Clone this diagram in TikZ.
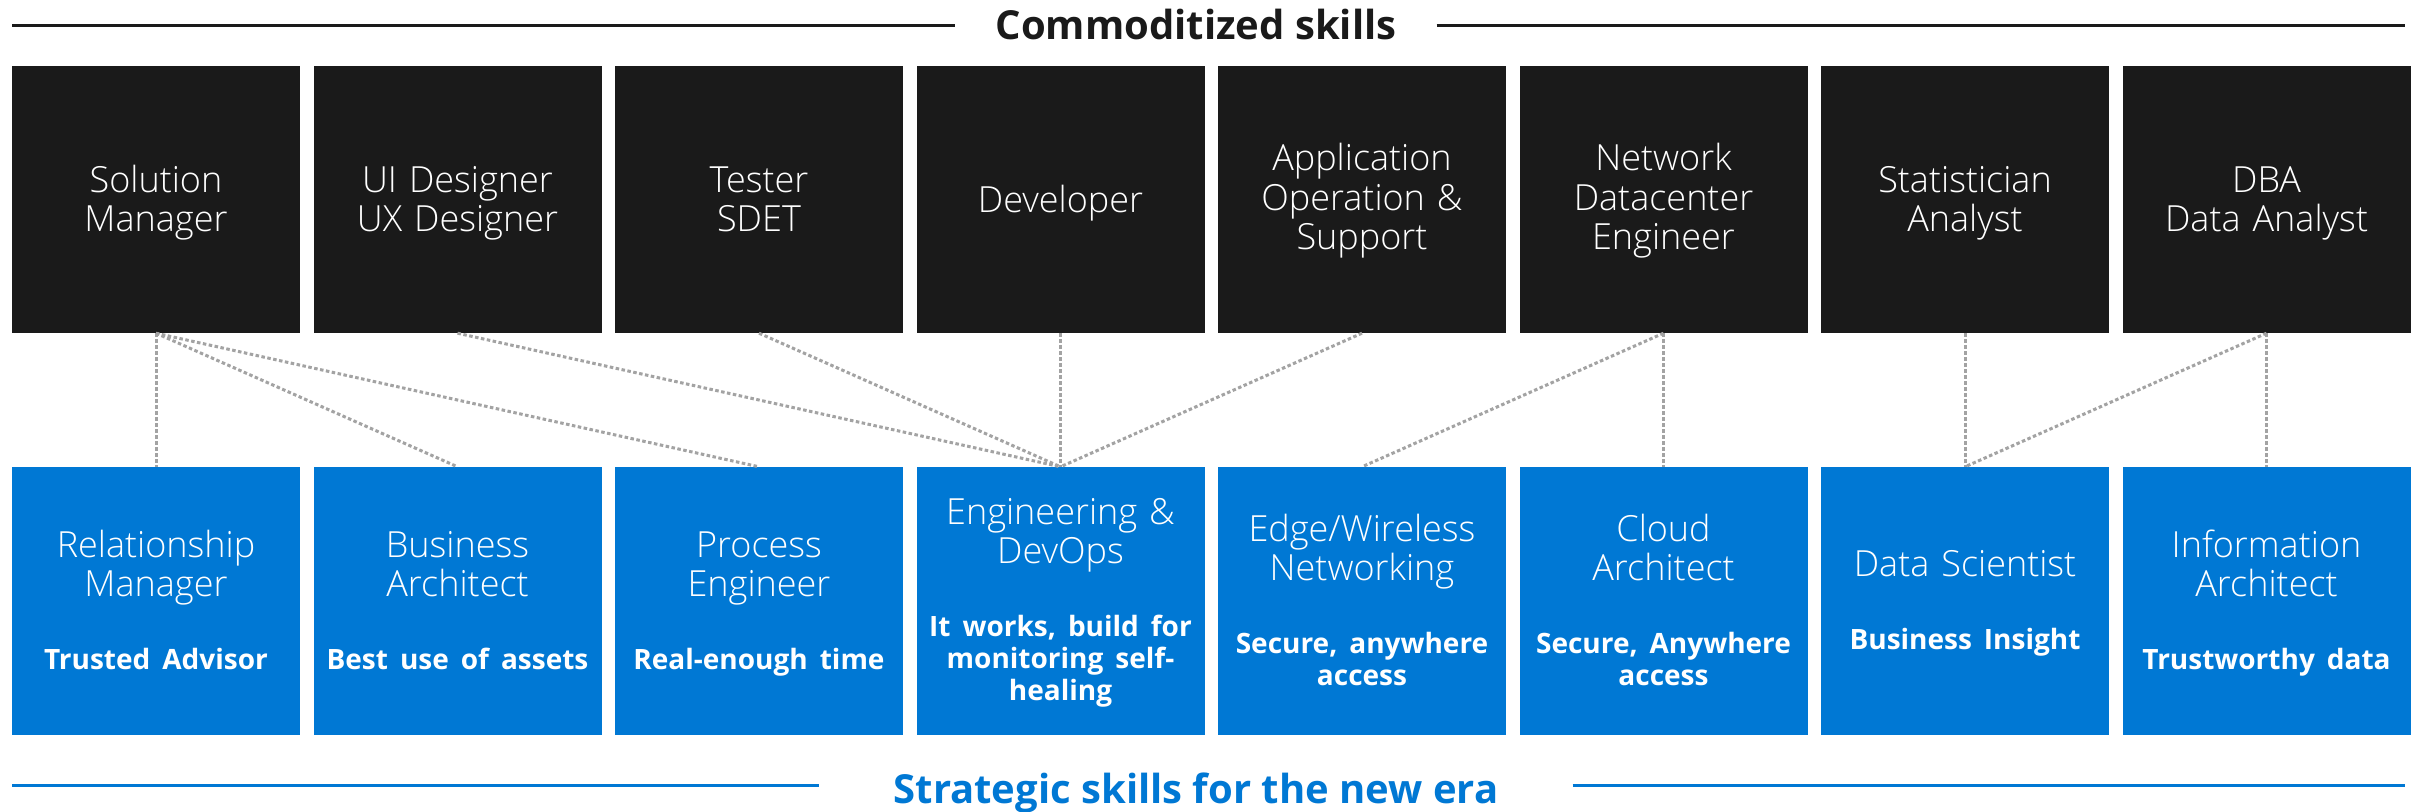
\documentclass[tikz,border=0pt]{standalone}
\usepackage{fontspec}
\setmainfont{Open Sans}
\newfontfamily\lightfam{Open Sans Light}
\usetikzlibrary{calc}
\definecolor{blk}{HTML}{1A1A1A}
\definecolor{msblue}{HTML}{0078D4}
\definecolor{dotgray}{HTML}{A3A3A3}
\newcommand\ttlfont{\lightfam\fontsize{36}{39.5}\selectfont}
\newcommand\subfont{\normalfont\bfseries\fontsize{28}{32}\selectfont}
\newcommand\gapsub{\par\vspace{41pt}\subfont}
\begin{document}
\begin{tikzpicture}[x=1pt,y=-1pt,
  blackbox/.style={fill=blk, minimum width=288pt, minimum height=267pt, inner sep=0pt},
  bluebox/.style={fill=msblue, minimum width=288pt, minimum height=268pt, inner sep=0pt},
  boxtxt/.style={text=white, inner sep=0pt, text width=286pt, align=center,
    font=\ttlfont, anchor=base},
  link/.style={draw=dotgray, line width=3pt, dash pattern=on 3.5pt off 2.5pt},
  headtxt/.style={inner sep=0pt, anchor=base, font=\bfseries\fontsize{40}{44}\selectfont},
  rule/.style={line width=3pt}]
\useasboundingbox[fill=white] (0,0) rectangle (2419,811);

% title top
\node[headtxt, text=blk] (top) at (1196,39) {Commoditized skills};
\coordinate (tA) at (12,25);
\coordinate (tB) at (2405,25);
\draw[rule, blk] (tA) -- ($(top.west |- tA)+(-40,0)$);
\draw[rule, blk] ($(top.east |- tB)+(40,0)$) -- (tB);

% title bottom
\node[headtxt, text=msblue] (bot) at (1196,803) {Strategic skills for the new era};
\coordinate (bA) at (12,785);
\coordinate (bB) at (2405,785);
\draw[rule, msblue] (bA) -- ($(bot.west |- bA)+(-74,0)$);
\draw[rule, msblue] ($(bot.east |- bB)+(74,0)$) -- (bB);

% commoditized skills (boxes)
\node[blackbox] (b1) at (156,199.5)    {};
\node[blackbox] (b2) at (457.5,199.5)  {};
\node[blackbox] (b3) at (759,199.5)    {};
\node[blackbox] (b4) at (1060.5,199.5) {};
\node[blackbox] (b5) at (1362,199.5)   {};
\node[blackbox] (b6) at (1663.5,199.5) {};
\node[blackbox] (b7) at (1965,199.5)   {};
\node[blackbox] (b8) at (2266.5,199.5) {};
% commoditized skills (texts, anchored at first baseline)
\node[boxtxt] (l1) at ($(b1.center)+(0,-7.5)$) {Solution\\Manager};
\node[boxtxt] (l2) at ($(b2.center)+(0,-7.5)$) {UI Designer\\UX Designer};
\node[boxtxt] (l3) at ($(b3.center)+(0,-7.5)$) {Tester\\SDET};
\node[boxtxt] (l4) at ($(b4.center)+(0,12.5)$) {Developer};
\node[boxtxt] (l5) at ($(b5.center)+(0,-29)$)  {Application\\Operation \&\\Support};
\node[boxtxt] (l6) at ($(b6.center)+(0,-29)$)  {Network\\Datacenter\\Engineer};
\node[boxtxt] (l7) at ($(b7.center)+(0,-7.5)$) {Statistician\\Analyst};
\node[boxtxt] (l8) at ($(b8.center)+(0,-7.5)$) {DBA\\Data Analyst};

% strategic skills (boxes)
\node[bluebox] (s1) at (156,601)    {};
\node[bluebox] (s2) at (457.5,601)  {};
\node[bluebox] (s3) at (759,601)    {};
\node[bluebox] (s4) at (1060.5,601) {};
\node[bluebox] (s5) at (1362,601)   {};
\node[bluebox] (s6) at (1663.5,601) {};
\node[bluebox] (s7) at (1965,601)   {};
\node[bluebox] (s8) at (2266.5,601) {};
% strategic skills (texts, anchored at first baseline)
\node[boxtxt] (m1) at ($(s1.center)+(0,-44)$) {Relationship\\Manager\gapsub Trusted Advisor\par};
\node[boxtxt] (m2) at ($(s2.center)+(0,-44)$) {Business\\Architect\gapsub Best use of assets\par};
\node[boxtxt] (m3) at ($(s3.center)+(0,-44)$) {Process\\Engineer\gapsub Real-enough time\par};
\node[boxtxt] (m4) at ($(s4.center)+(0,-77)$) {Engineering \&\\DevOps\gapsub It works, build for\\monitoring self-\\healing\par};
\node[boxtxt] (m5) at ($(s5.center)+(0,-60)$) {Edge/Wireless\\Networking\gapsub Secure, anywhere\\access\par};
\node[boxtxt] (m6) at ($(s6.center)+(0,-60)$) {Cloud\\Architect\gapsub Secure, Anywhere\\access\par};
\node[boxtxt] (m7) at ($(s7.center)+(0,-25)$) {Data Scientist\gapsub Business Insight\par};
\node[boxtxt] (m8) at ($(s8.center)+(0,-44)$) {Information\\Architect\gapsub Trustworthy data\par};

% connectors
\draw[link] (b1.south) -- (s1.north);
\draw[link] (b1.south) -- (s2.north);
\draw[link] (b1.south) -- (s3.north);
\draw[link] (b2.south) -- (s4.north);
\draw[link] (b3.south) -- (s4.north);
\draw[link] (b4.south) -- (s4.north);
\draw[link] (b5.south) -- (s4.north);
\draw[link] (b6.south) -- (s5.north);
\draw[link] (b6.south) -- (s6.north);
\draw[link] (b7.south) -- (s7.north);
\draw[link] (b8.south) -- (s7.north);
\draw[link] (b8.south) -- (s8.north);
\end{tikzpicture}
\end{document}
